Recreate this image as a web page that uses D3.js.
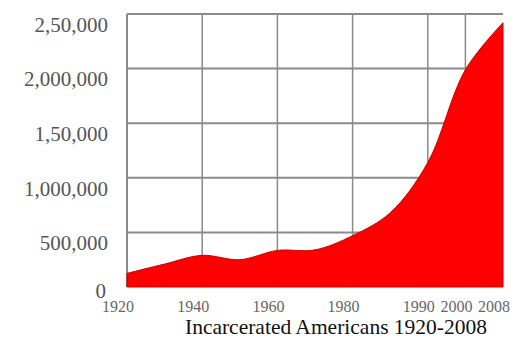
<!DOCTYPE html>
<html>
<head>
<meta charset="utf-8">
<script src="https://cdn.jsdelivr.net/npm/d3@7"></script>
<style>
  body { margin: 0; background: #fff; }
  svg { display: block; }
</style>
</head>
<body>
<svg width="523" height="338"></svg>
<script>
// data
var years = ["1920", "1930", "1940", "1950", "1960", "1970", "1980", "1985", "1990", "2000", "2008"];
var inmates = [125000, 210000, 290000, 250000, 335000, 340000, 470000, 680000, 1140000, 1990000, 2420000];
var xLabels = ["1920", "1940", "1960", "1980", "1990", "2000", "2008"];
var yTicks = [0, 500000, 1000000, 1500000, 2000000, 2500000];
var yLabels = ["0", "500,000", "1,000,000", "1,50,000", "2,000,000", "2,50,000"];
var title = "Incarcerated Americans 1920-2008";

var svg = d3.select("svg");
var plotLeft = 127, plotRight = 503, plotTop = 14, plotBottom = 287;

var x = d3.scalePoint().domain(years).range([plotLeft, plotRight]);
var y = d3.scaleLinear().domain([0, 2500000]).range([plotBottom, plotTop]);

var data = years.map(function(d, i) {
    return { year: d, value: inmates[i] };
});

// horizontal grid
svg.append("g")
    .selectAll("line")
    .data(yTicks.slice(1))
    .enter().append("line")
    .attr("x1", plotLeft)
    .attr("x2", plotRight)
    .attr("y1", function(d) { return y(d); })
    .attr("y2", function(d) { return y(d); })
    .attr("stroke", "#8a8a8a")
    .attr("stroke-width", 2);

// vertical grid, only at labelled years
svg.append("g")
    .selectAll("line")
    .data(xLabels.slice(0, -1))
    .enter().append("line")
    .attr("x1", function(d) { return x(d); })
    .attr("x2", function(d) { return x(d); })
    .attr("y1", plotTop)
    .attr("y2", plotBottom)
    .attr("stroke", "#8a8a8a")
    .attr("stroke-width", function(d, i) { return i == 0 ? 2 : 1.5; });

var area = d3.area()
    .curve(d3.curveCatmullRom.alpha(0.5))
    .x(function(d) { return x(d.year); })
    .y0(y(0))
    .y1(function(d) { return y(d.value); });

svg.append("path")
    .datum(data)
    .attr("d", area)
    .attr("fill", "#ff0000")
    .attr("stroke", "#c80000")
    .attr("stroke-width", 1);

// y labels (they sit a little below their grid lines in the original)
svg.append("g")
    .selectAll("text")
    .data(yTicks)
    .enter().append("text")
    .attr("x", function(d, i) { return i == 0 ? 106 : 108; })
    .attr("y", function(d) { return y(d); })
    .attr("dy", function(d, i) { return i == 0 ? "0.5em" : "0.85em"; })
    .attr("text-anchor", "end")
    .style("font", "21px 'Liberation Serif', serif")
    .attr("fill", "#555")
    .text(function(d, i) { return yLabels[i]; });

// x labels
svg.append("g")
    .selectAll("text")
    .data(xLabels)
    .enter().append("text")
    .attr("x", function(d) { return x(d) - 9; })
    .attr("y", 312)
    .attr("text-anchor", "middle")
    .style("font", "16px 'Liberation Serif', serif")
    .attr("fill", "#666")
    .text(function(d) { return d; });

svg.append("text")
    .attr("x", 336)
    .attr("y", 334)
    .attr("text-anchor", "middle")
    .style("font", "21.5px 'Liberation Serif', serif")
    .attr("fill", "#111")
    .text(title);
</script>
</body>
</html>
